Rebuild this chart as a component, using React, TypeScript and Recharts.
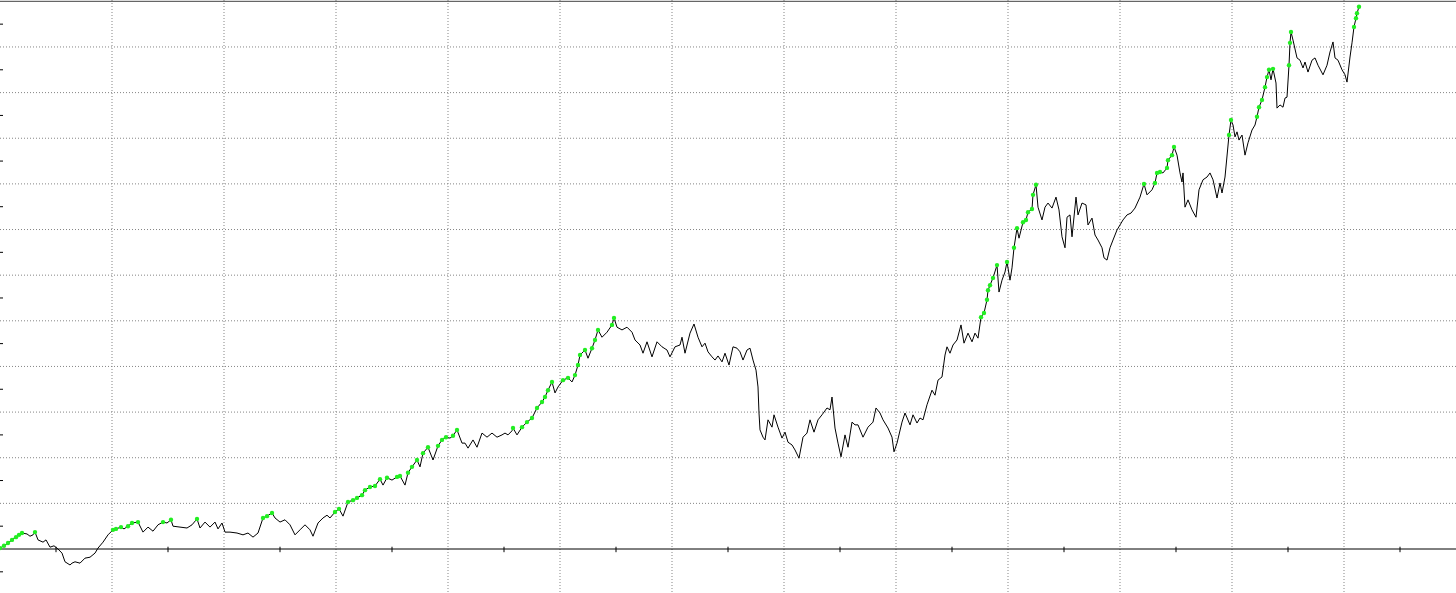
import { CartesianGrid, Line, LineChart, ReferenceLine, XAxis, YAxis } from "recharts";

// trade index along the x axis
const TRADES = [
  0, 4, 8, 12, 16, 19, 22, 27, 30, 33, 35, 38, 43, 46, 50, 54, 58, 62, 65, 70, 72, 75, 80, 85, 90, 95, 98,
  103, 108, 113, 116, 121, 124, 128, 132, 138, 143, 148, 153, 158, 163, 167, 171, 173, 180, 187, 192, 197,
  200, 205, 210, 215, 218, 222, 225, 230, 237, 243, 248, 253, 258, 263, 267, 272, 275, 280, 285, 290, 295,
  300, 305, 310, 313, 318, 323, 327, 330, 335, 339, 343, 348, 353, 357, 362, 365, 370, 375, 380, 383, 387,
  392, 397, 400, 405, 408, 412, 417, 420, 423, 428, 433, 438, 442, 446, 450, 453, 457, 462, 465, 468, 473,
  477, 482, 487, 492, 497, 502, 505, 508, 512, 513, 517, 522, 527, 532, 537, 542, 545, 548, 552, 555, 558,
  563, 568, 572, 575, 578, 580, 585, 588, 592, 595, 598, 602, 607, 612, 614, 617, 622, 627, 632, 635, 640,
  643, 647, 652, 657, 662, 667, 670, 675, 680, 682, 685, 690, 694, 698, 702, 705, 708, 712, 715, 718, 722,
  725, 729, 733, 737, 740, 743, 747, 750, 753, 756, 758, 759, 760, 763, 765, 768, 772, 774, 778, 782, 785,
  788, 792, 795, 799, 803, 807, 810, 814, 818, 822, 827, 830, 832, 835, 838, 841, 845, 848, 852, 855, 858,
  863, 868, 873, 876, 880, 883, 888, 892, 894, 897, 902, 905, 910, 913, 917, 920, 923, 927, 932, 935, 938,
  942, 945, 947, 950, 953, 957, 961, 964, 968, 972, 975, 978, 981, 984, 987, 988, 990, 993, 997, 999, 1002,
  1005, 1007, 1010, 1012, 1014, 1017, 1019, 1023, 1026, 1028, 1032, 1033, 1036, 1038, 1042, 1045, 1048, 1052,
  1056, 1059, 1062, 1065, 1067, 1070, 1072, 1076, 1078, 1082, 1086, 1088, 1092, 1095, 1098, 1102, 1104, 1107,
  1110, 1113, 1117, 1120, 1123, 1127, 1131, 1135, 1140, 1144, 1147, 1152, 1155, 1157, 1160, 1163, 1167, 1168,
  1172, 1174, 1177, 1180, 1182, 1183, 1185, 1188, 1192, 1196, 1199, 1203, 1207, 1210, 1213, 1217, 1220, 1222,
  1225, 1229, 1231, 1233, 1235, 1237, 1239, 1242, 1245, 1248, 1252, 1255, 1257, 1259, 1262, 1265, 1267, 1269,
  1271, 1273, 1276, 1277, 1280, 1283, 1285, 1287, 1289, 1290, 1291, 1293, 1297, 1300, 1303, 1305, 1308, 1312,
  1315, 1318, 1323, 1327, 1330, 1333, 1335, 1338, 1342, 1345, 1347, 1350, 1352, 1354, 1356, 1357, 1359,
];

// account balance after each trade
const BALANCE = [
  10020, 10070, 10130, 10200, 10260, 10310, 10350, 10330, 10280, 10310, 10370, 10200, 10150, 10200, 10040,
  10070, 10000, 9910, 9720, 9650, 9690, 9720, 9690, 9800, 9820, 9910, 10020,
  10150, 10310, 10420, 10440, 10480, 10440, 10500, 10570, 10590, 10370, 10480, 10390, 10530, 10590, 10570,
  10640, 10500, 10480, 10460, 10530, 10660,
  10460, 10590, 10480, 10590, 10440, 10570, 10370, 10370, 10350, 10310, 10350, 10260, 10350, 10680, 10720,
  10790, 10680, 10590, 10640, 10530, 10310,
  10420, 10530, 10420, 10280, 10570, 10680, 10740, 10680, 10810, 10880, 10720, 11030, 11070, 11120, 11180,
  11290, 11360, 11380, 11530, 11400, 11560,
  11510, 11580, 11600, 11400, 11670, 11800, 11950, 11800, 12100, 12230, 11950, 12260, 12390, 12450, 12430,
  12480, 12610, 12320, 12320, 12210, 12390,
  12230, 12540, 12450, 12540, 12450, 12500, 12540, 12500, 12590, 12650, 12500, 12670, 12780, 12870, 13090,
  13220, 13330, 13480, 13660, 13420, 13550,
  13700, 13750, 13660, 13810, 14030, 14250, 14360, 14180, 14400, 14580, 14800, 14640, 14750, 14910, 15060,
  14860, 14800, 14860, 14750, 14580, 14470,
  14290, 14540, 14210, 14540, 14430, 14360, 14210, 14430, 14470, 14640, 14290, 14730, 14930, 14640, 14430,
  14510, 14320, 14210, 14140, 14230, 14100,
  14290, 14030, 14430, 14400, 14320, 14140, 14360, 14400, 14140, 13920, 13550, 12980, 12610, 12450, 12390,
  12830, 12670, 12940, 12670, 12430, 12560,
  12340, 12280, 12170, 11990, 12450, 12540, 12830, 12560, 12830, 12940, 13090, 13050, 13330, 12650, 12320,
  12020, 12500, 12230, 12780, 12720, 12720,
  12450, 12670, 12780, 13090, 12980, 12830, 12650, 12450, 12130, 12320, 12780, 12980, 12720, 12940, 12760,
  12870, 12830, 13160, 13480, 13370, 13700,
  13770, 14250, 14430, 14290, 14470, 14580, 14910, 14510, 14730, 14540, 14730, 14620, 15080, 15170, 15460,
  15670, 15780, 15940, 16220, 15630, 15890,
  16070, 16290, 15890, 16160, 16600, 17030, 16810, 17160, 17210, 17380, 17450, 17760, 17980, 17490, 17210,
  17490, 17580, 17470,
  17710, 17430, 16840, 16600, 17270, 17320, 16840, 17710, 17320, 17580, 17540, 17100, 17250, 16880, 16770,
  16600, 16380, 16330,
  16600, 16770, 16990, 17100, 17210, 17320, 17360, 17470, 17710, 18000, 17760, 17870, 18020, 18240, 18260,
  18240, 18350, 18520,
  18630, 18810, 18630, 18240, 18040, 18240, 17490, 17650, 17430, 17270, 17870, 18090, 18150, 18240, 18090,
  17690, 18020, 17800,
  18150, 19070, 19400, 19290, 19030, 19140, 18960, 19070, 18630, 18900, 19180, 19290, 19470, 19680, 19840,
  20120, 20340, 20500,
  20280, 20520, 20210, 19660, 19730, 19680, 19880, 19900, 20600, 21090, 21330, 21150, 20760, 20710, 20540,
  20670, 20450, 20710,
  20760, 20600, 20390, 20600, 20890, 21110, 20760, 20710, 20500, 20390, 20230, 20780, 21090, 21440, 21630,
  21740, 21880,
];

const START_BALANCE = 10000;
const GRID_Y = [11000, 12000, 13000, 14000, 15000, 16000, 17000, 18000, 19000, 20000, 21000];
const TICKS_Y = [
  9500, 10500, 11500, 12500, 13500, 14500, 15500, 16500, 17500, 18500, 19500, 20500, 21500,
];
const GRID_X = [112, 224, 336, 448, 560, 672, 784, 896, 1008, 1120, 1232, 1344];
const TICKS_X = [56, 168, 280, 392, 504, 616, 728, 840, 952, 1064, 1176, 1288, 1400];

const WIDTH = 1456;
const HEIGHT = 593;
const Y_MIN = 9036;
const Y_MAX = 22029;
const LINE_COLOR = "#000000";
const HIGH_COLOR = "#22ee22";
const GRID_COLOR = "#858585";

let runningMax = -Infinity;
const data = TRADES.map((trade, i) => {
  const balance = BALANCE[i];
  const high = balance >= runningMax;
  if (high) runningMax = balance;
  return { trade, balance, high };
});

function HighDot(props: any) {
  const { cx, cy, payload, index } = props;
  if (!payload?.high) return <g key={`d-${index}`} />;
  return <circle key={`d-${index}`} cx={cx} cy={cy} r={2.2} fill={HIGH_COLOR} />;
}

export default function App() {
  return (
    <div style={{ position: "absolute", left: 0, top: 0, width: WIDTH, height: HEIGHT, background: "#fff" }}>
      <LineChart width={WIDTH} height={HEIGHT} data={data} margin={{ top: 0, right: 0, bottom: 0, left: 0 }}>
        <CartesianGrid
          stroke={GRID_COLOR}
          strokeDasharray="1 2"
          horizontalValues={GRID_Y}
          verticalValues={GRID_X}
        />
        <XAxis dataKey="trade" type="number" domain={[0, WIDTH]} hide allowDataOverflow />
        <YAxis type="number" domain={[Y_MIN, Y_MAX]} hide allowDataOverflow />
        <ReferenceLine y={22000} stroke="#444" strokeWidth={1} />
        <ReferenceLine y={START_BALANCE} stroke="#000" strokeWidth={1} />
        {TICKS_Y.map((t) => (
          <ReferenceLine
            key={`y-${t}`}
            segment={[
              { x: 0, y: t },
              { x: 3, y: t },
            ]}
            stroke="#000"
          />
        ))}
        {TICKS_X.map((t) => (
          <ReferenceLine
            key={`x-${t}`}
            segment={[
              { x: t, y: 9930 },
              { x: t, y: 10050 },
            ]}
            stroke="#000"
          />
        ))}
        <Line
          type="linear"
          dataKey="balance"
          stroke={LINE_COLOR}
          strokeWidth={1}
          dot={HighDot}
          activeDot={false}
          isAnimationActive={false}
        />
      </LineChart>
    </div>
  );
}
